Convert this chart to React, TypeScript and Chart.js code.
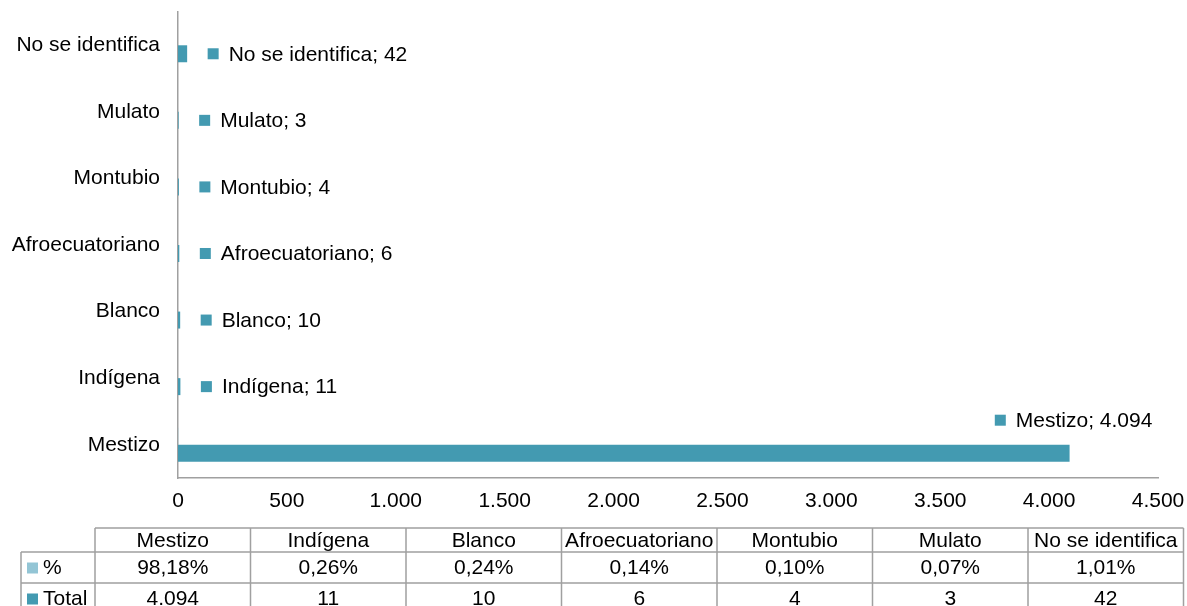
import React, { useEffect, useRef } from 'react';
import { Chart, registerables } from 'chart.js';

Chart.register(...registerables);

const categories = ['Mestizo', 'Indígena', 'Blanco', 'Afroecuatoriano', 'Montubio', 'Mulato', 'No se identifica'];
const totalValues = [4094, 11, 10, 6, 4, 3, 42];
const pctValues = [0.9818, 0.0026, 0.0024, 0.0014, 0.001, 0.0007, 0.0101];
const seriesNames = ['%', 'Total'];
const xMin = 0;
const xMax = 4500;
const xStep = 500;

const TEAL = '#439AB1';
const LIGHT = '#93C5D5';
const GRID = '#a0a0a0';
const FONT_FAMILY = '"Liberation Sans", Arial, sans-serif';
const FONT_SIZE = 21;

function fmtNum(v: number): string {
  return String(Math.round(v)).replace(/\B(?=(\d{3})+(?!\d))/g, '.');
}
function fmtPct(v: number): string {
  return (v * 100).toFixed(2).replace('.', ',') + '%';
}

const labelPlugin = {
  id: 'barLabels',
  afterDatasetsDraw(chart: any) {
    const ctx = chart.ctx;
    const meta = chart.getDatasetMeta(1);
    const labels = chart.data.labels as string[];
    const data = chart.data.datasets[1].data as number[];
    const area = chart.chartArea;
    ctx.save();
    ctx.font = `${FONT_SIZE}px ${FONT_FAMILY}`;
    ctx.textBaseline = 'middle';
    ctx.textAlign = 'left';
    meta.data.forEach((bar: any, i: number) => {
      const text = `${labels[i]}; ${fmtNum(data[i])}`;
      const tw = ctx.measureText(text).width;
      const sq = 11;
      const w = 21 + tw;
      let sx = bar.x + 20.5;
      let cy = bar.y;
      if (sx + w > area.right) {
        sx = bar.x + 4 - w / 2;
        cy = bar.y - 33;
      }
      ctx.fillStyle = TEAL;
      ctx.fillRect(sx, cy - sq / 2, sq, sq);
      ctx.fillStyle = '#000';
      ctx.fillText(text, sx + 21, cy + 1);
    });
    ctx.restore();
  },
};

const tablePlugin = {
  id: 'dataTable',
  afterDraw(chart: any) {
    const ctx = chart.ctx;
    const x0 = 95;
    const colW = 155.5;
    const legendLeft = 21;
    const yTop = 528;
    const yRow1 = 552;
    const yRow2 = 583;
    const yBottom = 614;
    const xEnd = x0 + colW * categories.length;
    ctx.save();
    ctx.strokeStyle = GRID;
    ctx.lineWidth = 1.5;
    ctx.beginPath();
    ctx.moveTo(x0, yTop); ctx.lineTo(xEnd, yTop);
    ctx.moveTo(legendLeft, yRow1); ctx.lineTo(xEnd, yRow1);
    ctx.moveTo(legendLeft, yRow2); ctx.lineTo(xEnd, yRow2);
    ctx.moveTo(legendLeft, yBottom); ctx.lineTo(xEnd, yBottom);
    ctx.moveTo(legendLeft, yRow1); ctx.lineTo(legendLeft, yBottom);
    for (let c = 0; c <= categories.length; c++) {
      const x = x0 + c * colW;
      ctx.moveTo(x, yTop); ctx.lineTo(x, yBottom);
    }
    ctx.stroke();

    ctx.font = `${FONT_SIZE}px ${FONT_FAMILY}`;
    ctx.textBaseline = 'middle';
    ctx.fillStyle = '#000';
    ctx.textAlign = 'center';
    const yHead = (yTop + yRow1) / 2 + 1;
    const yP = (yRow1 + yRow2) / 2 + 1;
    const yT = (yRow2 + yBottom) / 2 + 1;
    categories.forEach((cat, c) => {
      const cx = x0 + c * colW + colW / 2;
      ctx.fillText(cat, cx, yHead);
      ctx.fillText(fmtPct(pctValues[c]), cx, yP);
      ctx.fillText(fmtNum(totalValues[c]), cx, yT);
    });
    ctx.textAlign = 'left';
    const rows = [
      { y: yP, color: LIGHT, name: seriesNames[0] },
      { y: yT, color: TEAL, name: seriesNames[1] },
    ];
    rows.forEach((r) => {
      ctx.fillStyle = r.color;
      ctx.fillRect(27, r.y - 6, 11, 11);
      ctx.fillStyle = '#000';
      ctx.fillText(r.name, 43, r.y);
    });
    ctx.restore();
  },
};

export default function App() {
  const ref = useRef<HTMLCanvasElement>(null);
  useEffect(() => {
    const canvas = ref.current!;
    const labels = [...categories].reverse();
    const font = { family: FONT_FAMILY, size: FONT_SIZE };
    const chart = new Chart(canvas, {
      type: 'bar',
      data: {
        labels,
        datasets: [
          {
            label: seriesNames[0],
            data: [...pctValues].reverse(),
            backgroundColor: LIGHT,
            categoryPercentage: 0.51,
            barPercentage: 1,
          },
          {
            label: seriesNames[1],
            data: [...totalValues].reverse(),
            backgroundColor: TEAL,
            categoryPercentage: 0.51,
            barPercentage: 1,
          },
        ],
      },
      options: {
        indexAxis: 'y',
        responsive: false,
        animation: false,
        events: [],
        layout: { padding: { top: 12, right: 29, left: 0, bottom: 0 } },
        plugins: { legend: { display: false }, tooltip: { enabled: false } },
        scales: {
          x: {
            min: xMin,
            max: xMax,
            ticks: {
              stepSize: xStep,
              callback: (v: any) => fmtNum(Number(v)),
              color: '#000',
              font,
              padding: 11,
              maxRotation: 0,
              autoSkip: false,
            },
            grid: { display: false, drawTicks: false },
            border: { display: true, color: GRID, width: 1.5 },
            afterFit: (s: any) => {
              s.height = 128;
              s.paddingLeft = 0;
              s.paddingRight = 0;
              s.paddingTop = 0;
              s.paddingBottom = 0;
            },
          },
          y: {
            ticks: { color: '#000', font, padding: 18, autoSkip: false },
            grid: { display: false, drawTicks: false },
            border: { display: true, color: GRID, width: 1.5 },
            afterFit: (s: any) => {
              s.width = 178;
              s.paddingLeft = 0;
              s.paddingRight = 0;
              s.paddingTop = 0;
              s.paddingBottom = 0;
            },
          },
        },
      } as any,
      plugins: [labelPlugin, tablePlugin],
    });
    return () => chart.destroy();
  }, []);
  return (
    <canvas
      ref={ref}
      width={1187}
      height={606}
      style={{ position: 'absolute', left: 0, top: 0, width: 1187, height: 606 }}
    />
  );
}
